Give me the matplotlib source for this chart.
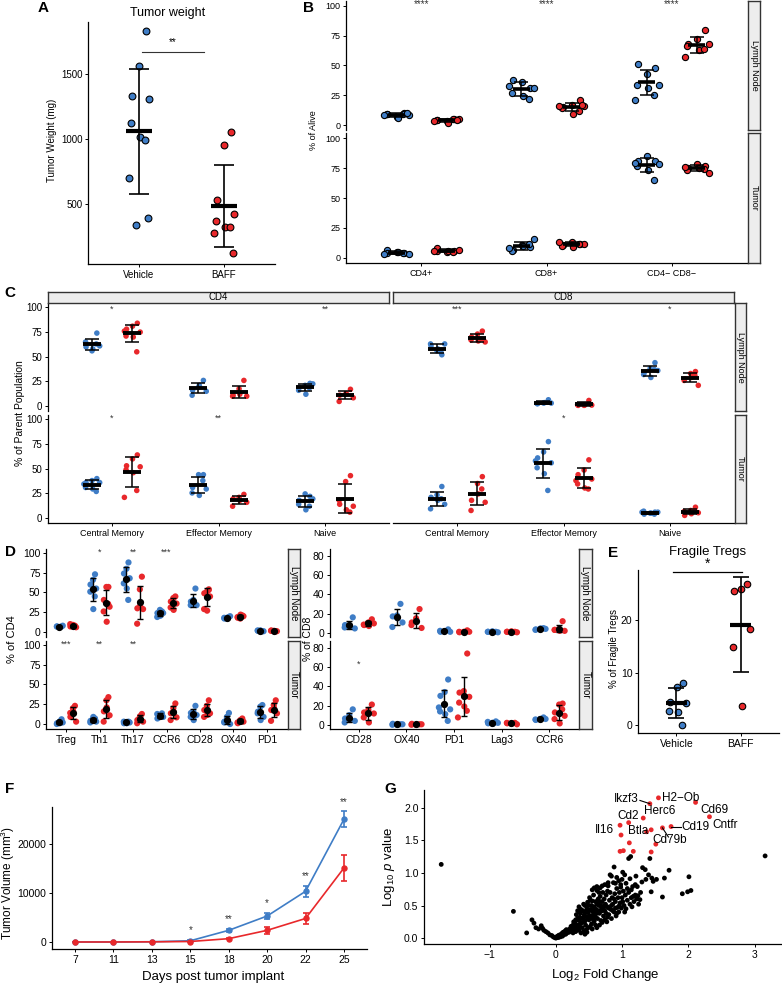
import numpy as np
import matplotlib
matplotlib.use("Agg")
import matplotlib.pyplot as plt

plt.rcParams['font.family'] = ['Liberation Sans', 'DejaVu Sans']
plt.rcParams['mathtext.fontset'] = 'custom'
plt.rcParams['mathtext.rm'] = 'Liberation Sans'
plt.rcParams['mathtext.it'] = 'Liberation Sans:italic'

# ---------------------------------------------------------------- data
groups = ["Vehicle", "BAFF"]

# A  tumor weight (mg)
a_vehicle = [1829, 1562, 1333, 1307, 1120, 1019, 994, 698, 389, 338]
a_baff = [1050, 950, 531, 425, 369, 320, 320, 274, 120]

# B  % of alive
b_cats = ["CD4+", "CD8+", "CD4\u2212 CD8\u2212"]
b_ln_veh = [[10, 7, 9, 8, 9, 6, 9, 8, 10], [31, 36, 38, 31, 27, 24, 22, 33], [48, 43, 51, 34, 34, 31, 25, 21]]
b_ln_baff = [[5, 3, 4, 5, 4, 2, 5, 3, 4], [21, 17, 15, 16, 14, 9, 12, 16, 17], [80, 72, 68, 68, 66, 63, 64, 57]]
b_tu_veh = [[4, 5, 7, 3, 4, 5, 4, 3], [9, 11, 7, 16, 6, 10, 12, 8], [81, 85, 81, 78, 77, 73, 65, 79]]
b_tu_baff = [[6, 5, 6, 7, 8, 6, 5, 6], [12, 13, 11, 12, 10, 9, 12, 13], [77, 78, 75, 71, 73, 75, 74, 76]]
b_ln_sig = ["****", "****", "****"]

# C  % of parent population
c_cats = ["Central Memory", "Effector Memory", "Naive"]
c_cd4_ln_veh = [[74, 56, 60, 61, 65, 58, 63], [26, 19, 16, 15, 11, 21], [23, 21, 19, 22.5, 16, 12, 18.5]]
c_cd4_ln_baff = [[84, 81, 78, 75, 71, 70, 55, 76], [26, 17.5, 11, 10, 10, 12], [17, 12, 11, 8.4, 4.7, 12.5]]
c_cd4_tu_veh = [[40, 38, 36, 36, 31, 29.5, 27, 34.5], [44, 44, 31, 29.5, 25.5, 23, 38], [22, 24.5, 18, 19.5, 14, 8.4, 12]]
c_cd4_tu_baff = [[64, 60, 53, 52, 49, 46, 28, 21], [24, 21, 19.5, 16, 12, 18], [43, 37, 14, 12, 18, 8.4, 6]]
c_cd8_ln_veh = [[52, 56, 61, 63, 63, 58, 54], [6.4, 3, 2.4, 3, 2.5, 3.5], [44, 38, 34, 36, 32, 29, 37]]
c_cd8_ln_baff = [[76, 73, 70, 65, 67, 66, 68], [5.7, 0.7, 0.7, 1, 1.5, 1.2], [35, 33, 27.6, 21, 26, 29, 31]]
c_cd8_tu_veh = [[32, 23.5, 21, 14, 9.4, 18, 19.5], [77.5, 67, 61, 56, 51, 45, 28, 58], [6, 5, 4, 6, 7, 5, 4, 6]]
c_cd8_tu_baff = [[42, 35, 18, 16, 7.7, 24.5, 29.5], [59, 48.7, 44, 39.6, 34.6, 30.5, 29.5, 38], [11, 7.7, 2.7, 5.4, 6.7, 4.4, 7]]
c_cd4_ln_sig = ["*", "", "**"]
c_cd4_tu_sig = ["*", "**", ""]
c_cd8_ln_sig = ["***", "", "*"]
c_cd8_tu_sig = ["", "*", ""]

# D  % of CD4 / % of CD8
d_cd4_cats = ["Treg", "Th1", "Th17", "CCR6", "CD28", "OX40", "PD1"]
d_cd4_ln_veh = [[7, 6, 7, 8, 7, 6], [73, 66, 60, 55, 51, 29, 45], [88, 80, 74, 68, 61.5, 55, 40.6],
                [26, 28, 24, 24, 19, 20.5], [55, 40.6, 38.5, 34, 34, 37], [19, 18, 17, 20, 18, 17], [1, 2, 1.5, 1, 2, 1.5]]
d_cd4_ln_baff = [[8, 9, 7, 6, 10, 8], [57, 57, 40.6, 32, 26, 13, 35.6], [70, 54, 30, 29, 10.5, 33],
                 [45, 43, 38.5, 36, 31, 28], [54, 51, 49, 45, 29, 27, 53], [21, 17, 18, 20, 19, 22], [1, 1.5, 2, 1, 1.5, 1]]
d_cd4_tu_veh = [[6, 3, 1, 2, 0, 1], [7, 6, 4, 3, 2, 9], [3, 2, 1, 2, 3, 1], [13.5, 11, 7, 9, 12.7],
                [23, 15.6, 14, 11.4, 9, 5], [14, 9, 3, 0, 2, 5], [24, 22, 15.6, 9, 13.5, 5]]
d_cd4_tu_baff = [[23, 20, 9, 3, 14, 16], [34, 30, 16, 11, 3, 21], [12.7, 9, 5, 3, 1, 10], [26, 20, 13.5, 8.4, 5, 15.6],
                 [30, 23, 17.7, 13.5, 9, 11.4], [7, 5, 1, 3, 2, 4], [30, 24, 17.7, 13.5, 4, 20]]
d_cd4_ln_sig = ["", "*", "**", "***", "", "", ""]
d_cd4_tu_sig = ["***", "**", "**", "", "", "", ""]
d_cd8_cats = ["CD28", "OX40", "PD1", "Lag3", "CCR6"]
d_cd8_ln_veh = [[16, 6, 8, 4.5, 5.5, 7], [30, 18, 17, 10.7, 6, 15], [3.5, 1.5, 1, 1, 2], [1, 1.5, 1, 0.5, 1], [4.8, 4, 3.5, 4, 3, 4.5]]
d_cd8_ln_baff = [[14, 10.7, 8, 9.7, 8.5, 7], [24.6, 15, 10.7, 5, 8], [2.5, 1, 0.5, 1, 1], [1, 1.5, 1, 0.5, 1], [12, 4, 3, 2, 3, 2]]
d_cd8_tu_veh = [[16, 10, 6.5, 4, 2.4, 5.9], [0.5, 0, 1, 0.5, 0], [47, 34, 30, 16, 13.8, 11, 4, 18], [3.5, 2, 1.5, 2, 3, 1], [7.6, 6, 5, 6, 5.5, 6]]
d_cd8_tu_baff = [[21, 15.5, 12.8, 11.7, 7.6, 2.4], [0.5, 0, 1, 0.5, 0], [74, 35, 33.4, 29, 23, 19, 14.5, 7.6], [2, 1, 1.5, 0.5, 2], [22, 21, 12.8, 9.3, 5.9, 1.4, 16]]
d_cd8_ln_sig = ["", "", "", "", ""]
d_cd8_tu_sig = ["*", "", "", "", ""]

# E  fragile Tregs
e_vehicle = [8.1, 7.3, 4.4, 4.3, 2.7, 2.5, 0.0]
e_baff = [26.8, 25.8, 25.5, 18.2, 14.9, 3.6]

# F  tumor growth
f_days = [7, 11, 13, 15, 18, 20, 22, 25]
f_veh_mean = [0, 0, 50, 250, 2380, 5300, 10340, 25040]
f_veh_err = [0, 0, 30, 100, 300, 650, 1100, 1600]
f_baff_mean = [0, 0, 30, 100, 680, 2380, 4800, 15100]
f_baff_err = [0, 0, 20, 60, 150, 700, 1150, 2600]
f_sig = ["", "", "", "*", "**", "*", "**", "**"]

# G  volcano
g_lfc = [0, 0.02, 0.04, 0.05, 0.07, 0.08, 0.1, 0.12, 0.13, 0.15, 0.17, 0.18, 0.2, 0.03, 0.06, 0.09, 0.11, 0.14, 0.16, 0.19,
         0.21, 0.22, 0.24, 0.25, 0.23, 0.26, 0.28, 0.3, 0.29, 0.27, -0.02, -0.04, -0.06, -0.09, -0.12, -0.15, -0.18, -0.2,
         -0.22, -0.3, -0.33, -0.36, -0.26, 0.01, 0.04,
         0.3, 0.32, 0.34, 0.35, 0.36, 0.33, 0.31, 0.33, 0.35, 0.37, 0.38, 0.4, 0.4, 0.41, 0.42, 0.43, 0.44, 0.45, 0.46, 0.47,
         0.48, 0.49, 0.5, 0.5, 0.51, 0.52, 0.53, 0.54, 0.55, 0.56, 0.57, 0.57, 0.58, 0.59, 0.6, 0.6, 0.61, 0.62, 0.63, 0.64,
         0.65, 0.66, 0.67, 0.68, 0.69, 0.7, 0.71, 0.72, 0.73, 0.74, 0.75, 0.76, 0.77, 0.78, 0.79, 0.8, 0.81, 0.82, 0.83, 0.84,
         0.85, 0.86, 0.87, 0.88, 0.89, 0.9, 0.91, 0.92, 0.93, 0.94, 0.95, 0.96, 0.97, 0.98, 0.99, 1.0, 1.02, 1.03, 1.05, 1.06,
         1.08, 1.1, 1.12, 1.14, 1.15, 1.18, 1.2, 1.22, 1.25,
         0.26, 0.28, 0.35, 0.38, 0.42, 0.45, 0.48, 0.52, 0.55, 0.44, 0.47, 0.62, 0.66, 0.7, 0.74, 0.78, 0.58, 0.62, 0.64, 0.68,
         0.72, 0.76, 0.8, 0.84, 0.54, 0.46, 0.4, 0.36, 0.3, 0.38, 0.44, 0.52, 0.56, 0.6, 0.5, 0.48, 0.42, 0.54, 0.58, 0.62,
         0.66, 0.7, 0.74, 0.86, 0.9, 0.96, 1.01, 1.04, 0.92, 0.88,
         0.55, 0.58, 0.62, 0.67, 0.74, 0.79, 0.84, 0.88, 0.82, 0.92, 1.01, 1.04, 1.12, 1.21, 1.23, 1.27, 1.24, 1.17, 1.16, 1.1,
         1.13, 1.31, 1.35, 1.42, 1.4, 1.47, 1.52, 1.44, 1.64, 1.71, 1.61, 1.91, 1.99, 2.04, 2.01, 0.95, 0.98, 1.06, 1.08, 0.9,
         0.78, 1.0, 1.14, 1.2, 1.3, 1.36, 1.45, 1.28, 0.7, 0.65,
         -1.73, -0.64, -0.44, 3.16]
g_logp = [0, 0.01, 0.01, 0.02, 0.02, 0.04, 0.03, 0.05, 0.07, 0.06, 0.08, 0.1, 0.09, 0.03, 0.05, 0.07, 0.09, 0.11, 0.13, 0.12,
          0.14, 0.11, 0.13, 0.16, 0.18, 0.2, 0.17, 0.19, 0.23, 0.25, 0.01, 0.02, 0.04, 0.05, 0.08, 0.1, 0.12, 0.15,
          0.19, 0.16, 0.23, 0.28, 0.14, 0.02, 0.04,
          0.1, 0.14, 0.2, 0.27, 0.32, 0.3, 0.36, 0.42, 0.48, 0.38, 0.23, 0.16, 0.3, 0.42, 0.52, 0.36, 0.26, 0.2, 0.33, 0.45,
          0.55, 0.39, 0.28, 0.5, 0.62, 0.34, 0.44, 0.22, 0.57, 0.4, 0.3, 0.66, 0.48, 0.36, 0.56, 0.2, 0.44, 0.73, 0.3, 0.6,
          0.5, 0.38, 0.64, 0.27, 0.46, 0.56, 0.7, 0.34, 0.6, 0.42, 0.52, 0.66, 0.25, 0.48, 0.8, 0.36, 0.58, 0.7, 0.44, 0.3,
          0.62, 0.52, 0.85, 0.4, 0.68, 0.56, 0.34, 0.76, 0.47, 0.62, 0.4, 0.7, 0.54, 0.82, 0.46, 0.62, 0.72, 0.5, 0.66, 0.45,
          0.58, 0.7, 0.52, 0.62, 0.48, 0.56, 0.66, 0.6, 0.52,
          0.08, 0.12, 0.12, 0.08, 0.1, 0.12, 0.15, 0.18, 0.14, 0.06, 0.09, 0.16, 0.2, 0.24, 0.28, 0.32, 0.26, 0.38, 0.42, 0.5,
          0.46, 0.38, 0.46, 0.5, 0.5, 0.4, 0.24, 0.18, 0.28, 0.44, 0.5, 0.58, 0.34, 0.32, 0.42, 0.3, 0.32, 0.3, 0.42, 0.52,
          0.56, 0.42, 0.5, 0.42, 0.46, 0.5, 0.56, 0.4, 0.38, 0.6,
          0.74, 0.77, 0.79, 0.77, 0.82, 0.85, 0.95, 1.09, 0.97, 0.93, 1.01, 0.97, 0.91, 0.95, 0.79, 0.59, 0.65, 0.64, 0.79, 1.22,
          1.25, 1.08, 1.05, 1.22, 0.97, 0.87, 0.9, 0.71, 0.92, 1.04, 0.63, 0.68, 0.71, 0.73, 0.94, 0.88, 0.78, 0.84, 0.76, 0.84,
          0.72, 0.9, 0.74, 0.82, 0.86, 0.9, 0.92, 0.7, 0.8, 0.7,
          1.13, 0.41, 0.08, 1.26]
g_sig_lfc = [1.55, 1.42, 2.11, 2.32, 1.32, 1.10, 0.97, 0.985, 1.44, 1.61, 1.74, 1.37, 1.11, 1.51, 0.97, 1.02, 1.17, 1.44]
g_sig_logp = [2.15, 2.06, 2.08, 1.86, 1.84, 1.77, 1.73, 1.58, 1.66, 1.69, 1.71, 1.63, 1.46, 1.44, 1.33, 1.34, 1.33, 1.32]
g_sig_gene = ["H2\u2212Ob", "Ikzf3", "Cd69", "Cntfr", "Herc6", "Cd2", "Il16", "", "", "Cd79b", "Cd19", "Btla",
              "", "", "", "", "", ""]

# ---------------------------------------------------------------- layout helpers
W, H = 782, 983
BLUE = '#3F7DC6'
RED = '#E8282B'
fig = plt.figure(figsize=(W / 100, H / 100), dpi=100)


def rect(l, t, r, b):
    return [l / W, 1 - b / H, (r - l) / W, (b - t) / H]


def ftext(x, y, s, **kw):
    fig.text(x / W, 1 - y / H, s, **kw)


def classic(ax, left=True, bottom=True, fs=7):
    ax.set_facecolor('none')
    for s in ['top', 'right']:
        ax.spines[s].set_visible(False)
    ax.spines['left'].set_visible(left)
    ax.spines['bottom'].set_visible(bottom)
    for s in ['left', 'bottom']:
        ax.spines[s].set_linewidth(0.9)
    ax.tick_params(labelsize=fs, length=2.5, width=0.7, pad=1.5, colors='black')
    if not left:
        ax.tick_params(axis='y', left=False, labelleft=False)
    if not bottom:
        ax.tick_params(axis='x', bottom=False, labelbottom=False)


def strip(l, t, r, b, text, rot=0, fs=7):
    a = fig.add_axes(rect(l, t, r, b))
    a.set_xticks([])
    a.set_yticks([])
    a.set_facecolor('#EDEDED')
    for s in a.spines.values():
        s.set_linewidth(1.0)
        s.set_color('#333333')
    a.text(0.5, 0.5, text, rotation=rot, ha='center', va='center', fontsize=fs, transform=a.transAxes)


def jit(n, w):
    return w * np.sin(np.arange(n) * 2.39996 + 0.7)


def group(ax, x, vals, color, st):
    vals = np.asarray(vals, float)
    xs = x + jit(len(vals), st['jw'])
    m, s = vals.mean(), vals.std(ddof=1)
    if st['edge']:
        ax.scatter(xs, vals, s=st['s'], c=color, edgecolors='black', linewidths=0.8, zorder=3, clip_on=False)
    else:
        ax.scatter(xs, vals, s=st['s'], c=color, edgecolors='none', zorder=2, clip_on=False)
    ax.errorbar(x, m, yerr=s, fmt='none', ecolor='black', elinewidth=st['elw'], capsize=st['cap'],
                capthick=st['elw'], zorder=4)
    if st['mean'] == 'bar':
        ax.plot([x - st['hw'], x + st['hw']], [m, m], color='black', lw=st['mlw'], solid_capstyle='butt', zorder=5)
    else:
        ax.plot([x], [m], 'o', color='black', ms=st['ms'], zorder=5)


def dotpanel(ax, cats, veh, baff, st, ylim, yticks, sig=None, sig_y=100, left=True, bottom=True, fs=7, sfs=7):
    for i in range(len(cats)):
        group(ax, i - st['off'], veh[i], BLUE, st)
        group(ax, i + st['off'], baff[i], RED, st)
        if sig and sig[i]:
            ax.text(i, sig_y, sig[i], ha='center', va='center', fontsize=sfs, color='#333333')
    ax.set_xlim(-0.6, len(cats) - 0.4)
    ax.set_ylim(*ylim)
    ax.set_yticks(yticks)
    ax.set_xticks(range(len(cats)))
    ax.set_xticklabels(cats)
    classic(ax, left, bottom, fs)


# ---------------------------------------------------------------- A
axA = fig.add_axes(rect(88, 22, 275, 264))
stA = dict(jw=0.12, off=0, s=24, edge=True, elw=1.2, cap=7.5, mean='bar', hw=0.15, mlw=3.0)
group(axA, 0, a_vehicle, BLUE, stA)
group(axA, 1, a_baff, RED, stA)
axA.set_xlim(-0.6, 1.6)
axA.set_ylim(38, 1900)
axA.set_yticks([500, 1000, 1500])
axA.set_xticks([0, 1])
axA.set_xticklabels(groups)
classic(axA, fs=7)
axA.plot([0.04, 0.76], [1670, 1670], color='#333333', lw=0.8)
axA.text(0.4, 1745, "**", ha='center', va='center', fontsize=7)
ftext(168, 13, "Tumor weight", ha='center', va='center', fontsize=9)
ftext(52, 140, "Tumor Weight (mg)", ha='center', va='center', rotation=90, fontsize=7)
ftext(43, 8, "A", ha='center', va='center', fontsize=11, fontweight='bold')

# ---------------------------------------------------------------- B
stB = dict(jw=0.1, off=0.2, s=20, edge=True, elw=1.1, cap=5, mean='bar', hw=0.068, mlw=2.6)
axB1 = fig.add_axes(rect(346, 1, 747, 130))
dotpanel(axB1, b_cats, b_ln_veh, b_ln_baff, stB, (-4.2, 104.2), [0, 25, 50, 75, 100], b_ln_sig, 101.5,
         bottom=False, fs=6.5, sfs=7)
axB2 = fig.add_axes(rect(346, 133, 747, 263))
dotpanel(axB2, b_cats, b_tu_veh, b_tu_baff, stB, (-4.2, 104.2), [0, 25, 50, 75, 100], fs=6.5)
strip(748, 1, 760, 130, "Lymph Node", rot=-90, fs=6.5)
strip(748, 133, 760, 263, "Tumor", rot=-90, fs=6.5)
ftext(313, 130, "% of Alive", ha='center', va='center', rotation=90, fontsize=6.5)
ftext(308, 8, "B", ha='center', va='center', fontsize=11, fontweight='bold')

# ---------------------------------------------------------------- C
stC = dict(jw=0.075, off=0.19, s=16, edge=False, elw=1.1, cap=5, mean='bar', hw=0.085, mlw=2.8)
yl_c = (-5, 104.5)
yt = [0, 25, 50, 75, 100]
axC1 = fig.add_axes(rect(48, 303, 389, 411))
dotpanel(axC1, c_cats, c_cd4_ln_veh, c_cd4_ln_baff, stC, yl_c, yt, c_cd4_ln_sig, 98, bottom=False, fs=7, sfs=6.5)
axC2 = fig.add_axes(rect(48, 415, 389, 523))
dotpanel(axC2, c_cats, c_cd4_tu_veh, c_cd4_tu_baff, stC, yl_c, yt, c_cd4_tu_sig, 101, fs=7, sfs=6.5)
axC3 = fig.add_axes(rect(393, 303, 734, 411))
dotpanel(axC3, c_cats, c_cd8_ln_veh, c_cd8_ln_baff, stC, yl_c, yt, c_cd8_ln_sig, 98, left=False, bottom=False, fs=7, sfs=6.5)
axC4 = fig.add_axes(rect(393, 415, 734, 523))
dotpanel(axC4, c_cats, c_cd8_tu_veh, c_cd8_tu_baff, stC, yl_c, yt, c_cd8_tu_sig, 101, left=False, fs=7, sfs=6.5)
for a in (axC2, axC4):
    a.tick_params(axis='x', labelsize=6.5)
strip(48, 292, 389, 303, "CD4", fs=7)
strip(393, 292, 734, 303, "CD8", fs=7)
strip(735, 303, 746, 411, "Lymph Node", rot=-90, fs=6.5)
strip(735, 415, 746, 523, "Tumor", rot=-90, fs=6.5)
ftext(20, 413, "% of Parent Population", ha='center', va='center', rotation=90, fontsize=7.5)
ftext(10, 293, "C", ha='center', va='center', fontsize=11, fontweight='bold')

# ---------------------------------------------------------------- D
stD = dict(jw=0.1, off=0.2, s=20, edge=False, elw=1.0, cap=2.5, mean='dot', ms=4.2)
axD1 = fig.add_axes(rect(46, 549, 287, 637))
dotpanel(axD1, d_cd4_cats, d_cd4_ln_veh, d_cd4_ln_baff, stD, (-6.3, 105), yt, d_cd4_ln_sig, 101, bottom=False, fs=7.5, sfs=6.5)
axD2 = fig.add_axes(rect(46, 641, 287, 729))
dotpanel(axD2, d_cd4_cats, d_cd4_tu_veh, d_cd4_tu_baff, stD, (-6.3, 105), yt, d_cd4_tu_sig, 101, fs=7.5, sfs=6.5)
strip(288, 549, 300, 637, "Lymph Node", rot=-90, fs=7)
strip(288, 641, 300, 729, "Tumor", rot=-90, fs=7)
ftext(12, 639, "% of CD4", ha='center', va='center', rotation=90, fontsize=8)
ftext(10, 552, "D", ha='center', va='center', fontsize=11, fontweight='bold')

stD8 = dict(jw=0.12, off=0.2, s=20, edge=False, elw=1.0, cap=2.5, mean='dot', ms=4.2)
yt8 = [0, 20, 40, 60, 80]
axD3 = fig.add_axes(rect(330, 549, 578, 637))
dotpanel(axD3, d_cd8_cats, d_cd8_ln_veh, d_cd8_ln_baff, stD8, (-4.4, 87), yt8, d_cd8_ln_sig, 80, bottom=False, fs=7.5, sfs=6.5)
axD4 = fig.add_axes(rect(330, 641, 578, 729))
dotpanel(axD4, d_cd8_cats, d_cd8_tu_veh, d_cd8_tu_baff, stD8, (-4.4, 87), yt8, d_cd8_tu_sig, 63, fs=7.5, sfs=6.5)
strip(579, 549, 592, 637, "Lymph Node", rot=-90, fs=7)
strip(579, 641, 592, 729, "Tumor", rot=-90, fs=7)
ftext(308, 639, "% of CD8", ha='center', va='center', rotation=90, fontsize=7.5)

# ---------------------------------------------------------------- E
axE = fig.add_axes(rect(638, 570, 779, 733))
stE = dict(jw=0.15, off=0, s=22, edge=True, elw=1.2, cap=6, mean='bar', hw=0.16, mlw=3.0)
group(axE, 0, e_vehicle, BLUE, stE)
group(axE, 1, e_baff, RED, stE)
axE.set_xlim(-0.6, 1.6)
axE.set_ylim(-1.5, 29.5)
axE.set_yticks([0, 10, 20])
axE.set_xticks([0, 1])
axE.set_xticklabels(groups)
classic(axE, fs=7.5)
axE.plot([-0.05, 1.02], [29.2, 29.2], color='black', lw=0.9, clip_on=False)
axE.text(0.48, 30.7, "*", ha='center', va='center', fontsize=10)
ftext(708, 552, "Fragile Tregs", ha='center', va='center', fontsize=9.5)
ftext(614, 648, "% of Fragile Tregs", ha='center', va='center', rotation=90, fontsize=7)
ftext(613, 553, "E", ha='center', va='center', fontsize=11, fontweight='bold')

# ---------------------------------------------------------------- F
axF = fig.add_axes(rect(52, 807, 367, 949))
xf = np.arange(len(f_days))
axF.errorbar(xf, f_veh_mean, yerr=f_veh_err, color=BLUE, marker='o', ms=3.6, lw=1.2, elinewidth=1.2,
             capsize=2.5, capthick=1.2)
axF.errorbar(xf, f_baff_mean, yerr=f_baff_err, color=RED, marker='o', ms=3.6, lw=1.2, elinewidth=1.2,
             capsize=2.5, capthick=1.2)
for i, s in enumerate(f_sig):
    if s:
        axF.annotate(s, (i, f_veh_mean[i] + f_veh_err[i]), xytext=(0, 3.5), textcoords='offset points',
                     ha='center', va='bottom', fontsize=7, color='#333333', annotation_clip=False)
axF.set_xlim(-0.6, 7.6)
axF.set_ylim(-1430, 27550)
axF.set_yticks([0, 10000, 20000])
axF.set_xticks(xf)
axF.set_xticklabels([str(d) for d in f_days])
classic(axF, fs=7.5)
ftext(213, 977, "Days post tumor implant", ha='center', va='center', fontsize=9.5)
ftext(8, 883, "Tumor Volume (mm$^3$)", ha='center', va='center', rotation=90, fontsize=8.5)
ftext(10, 789, "F", ha='center', va='center', fontsize=11, fontweight='bold')

# ---------------------------------------------------------------- G
axG = fig.add_axes(rect(424, 790, 781, 944))
axG.scatter(g_lfc, g_logp, s=12, c='black', edgecolors='none', zorder=2)
axG.scatter(g_sig_lfc, g_sig_logp, s=12, c=RED, edgecolors='none', zorder=3)
axG.set_xlim(-1.99, 3.4)
axG.set_ylim(-0.09, 2.27)
axG.set_xticks([-1, 0, 1, 2, 3])
axG.set_xticklabels(["\u22121", "0", "1", "2", "3"])
axG.set_yticks([0, 0.5, 1.0, 1.5, 2.0])
axG.set_yticklabels(["0.0", "0.5", "1.0", "1.5", "2.0"])
classic(axG, fs=7.5)
# label placement (text position, alignment, optional segment end)
lab_pos = {
    "H2\u2212Ob": ((1.61, 2.14), 'left', None),
    "Ikzf3": ((1.25, 2.13), 'right', (1.27, 2.11)),
    "Herc6": ((1.57, 1.95), 'center', None),
    "Cd69": ((2.40, 1.96), 'center', None),
    "Cntfr": ((2.55, 1.73), 'center', None),
    "Cd2": ((1.095, 1.87), 'center', None),
    "Il16": ((0.74, 1.66), 'center', None),
    "Btla": ((1.25, 1.64), 'center', None),
    "Cd79b": ((1.72, 1.50), 'center', (1.70, 1.55)),
    "Cd19": ((1.90, 1.71), 'left', (1.89, 1.71)),
}
for gx, gy, gname in zip(g_sig_lfc, g_sig_logp, g_sig_gene):
    if gname in lab_pos:
        (tx, ty), ha, seg = lab_pos[gname]
        axG.text(tx, ty, gname, ha=ha, va='center', fontsize=8.5, zorder=4)
        if seg is not None:
            axG.plot([gx, seg[0]], [gy, seg[1]], color='black', lw=0.8, zorder=3)
ftext(605, 975, "Log$_2$ Fold Change", ha='center', va='center', fontsize=9.5)
ftext(389, 867, "Log$_{10}$ $p$ value", ha='center', va='center', rotation=90, fontsize=9.5)
ftext(390, 789, "G", ha='center', va='center', fontsize=11, fontweight='bold')

fig.savefig("out.png", dpi=100)
